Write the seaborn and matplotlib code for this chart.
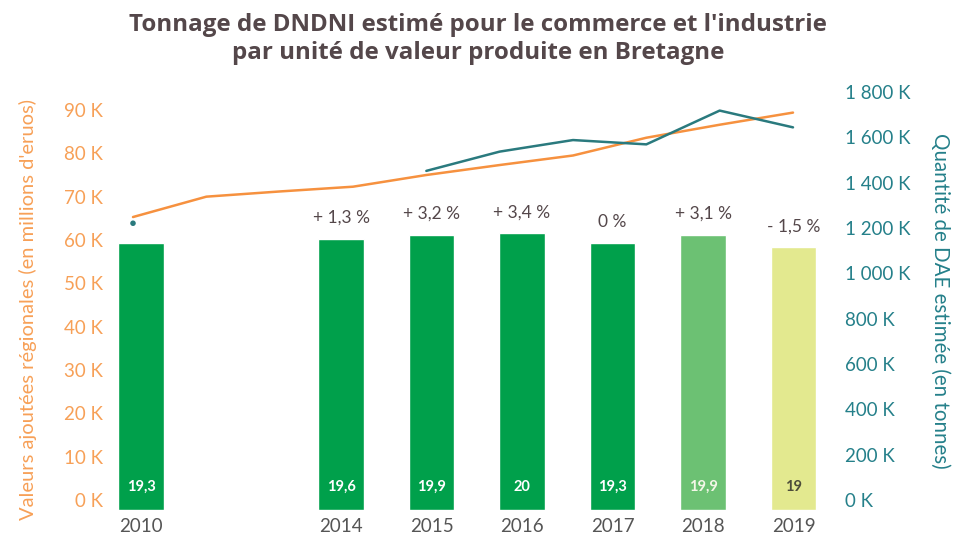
import matplotlib
matplotlib.use("Agg")
import matplotlib.pyplot as plt
from matplotlib.ticker import FixedLocator, FuncFormatter
import seaborn as sns
import pandas as pd
import numpy as np

# ---------------- data ----------------
years = [2010, 2011, 2012, 2013, 2014, 2015, 2016, 2017, 2018, 2019]
valeur_ajoutee = [65300, 70000, 71200, 72300, 75000, 77300, 79500, 83600, 86600, 89400]
dae_tonnes = [1221000, np.nan, np.nan, np.nan, 1452000, 1537000, 1588000, 1569000, 1718000, 1644000]

bar_years = ["2010", "2014", "2015", "2016", "2017", "2018", "2019"]
bar_values = [19.3, 19.6, 19.9, 20.0, 19.3, 19.9, 19.0]
bar_change = [None, 1.3, 3.2, 3.4, 0.0, 3.1, -1.5]

left_ticks = [0, 10000, 20000, 30000, 40000, 50000, 60000, 70000, 80000, 90000]
right_ticks = [0, 200000, 400000, 600000, 800000, 1000000, 1200000, 1400000, 1600000, 1800000]

title = "Tonnage de DNDNI estimé pour le commerce et l'industrie\npar unité de valeur produite en Bretagne"
left_label = "Valeurs ajoutées régionales (en millions d'eruos)"
right_label = "Quantité de DAE estimée (en tonnes)"

# ---------------- style ----------------
bar_palette = ["#00a04b", "#00a04b", "#00a04b", "#00a04b", "#00a04b", "#6cc173", "#e3e98f"]
bar_text_colors = ["white", "white", "white", "white", "white", "#f4f7e8", "#4d4d3a"]
orange = "#f6913f"
orange_text = "#f7a057"
teal = "#2a7a7e"
teal_text = "#25808a"
dark = "#54474a"

sns.set_theme(style="white")
plt.rcParams["font.family"] = ["Lato", "DejaVu Sans"]

W, H = 956, 538
fig = plt.figure(figsize=(W / 100, H / 100), dpi=100)

# layout (pixels)
ax_left_px, ax_right_px = 118, 820
line_top_px, line_bottom_px = 92, 500
bar_bottom_px = 510
first_gap = 2.21       # slot distance between the 2010 bar and the 2014 bar
bar_slot_px = 90.5
first_bar_px = 141
first_year_px, last_year_px = 133, 793

def frac_x(px):
    return px / W

def frac_y(px):
    return 1 - px / H

# bar axes (behind)
axb = fig.add_axes([frac_x(ax_left_px), frac_y(bar_bottom_px),
                    frac_x(ax_right_px) - frac_x(ax_left_px),
                    frac_y(line_top_px) - frac_y(bar_bottom_px)])
bar_pos = [0.0] + [first_gap + i for i in range(len(bar_years) - 1)]
dfb = pd.DataFrame({"pos": bar_pos, "value": bar_values, "year": bar_years})
sns.barplot(data=dfb, x="pos", y="value", hue="year",
            palette=dict(zip(bar_years, bar_palette)), dodge=False,
            native_scale=True, width=0.505, saturation=1, legend=False, ax=axb)
axb.set_ylim(0, 30.2)
axb.set_xlim((ax_left_px - first_bar_px) / bar_slot_px, (ax_right_px - first_bar_px) / bar_slot_px)
axb.xaxis.set_major_locator(FixedLocator(bar_pos))
axb.set_xticklabels(bar_years)
axb.tick_params(axis="x", length=0, pad=6, labelsize=13.5, labelcolor="#555555")
axb.set_yticks([])
axb.set_xlabel("")
axb.set_ylabel("")
for s in axb.spines.values():
    s.set_visible(False)
axb.set_facecolor("none")

def fmt_num(v):
    s = f"{v:.1f}".rstrip("0").rstrip(".")
    return s.replace(".", ",")

for p, v, c, tc in zip(bar_pos, bar_values, bar_change, bar_text_colors):
    axb.annotate(fmt_num(v), (p, 0), xytext=(0, 16.5), textcoords="offset points",
                 ha="center", va="center", fontsize=10.5, fontweight="bold", color=tc)
    if c is not None:
        if c > 0:
            txt = "+ " + fmt_num(c) + " %"
        elif c < 0:
            txt = "- " + fmt_num(-c) + " %"
        else:
            txt = "0 %"
        axb.annotate(txt, (p, v), xytext=(0, 15), textcoords="offset points",
                     ha="center", va="center", fontsize=12.5, color=dark)

# line axes (front)
axl = fig.add_axes([frac_x(ax_left_px), frac_y(line_bottom_px),
                    frac_x(ax_right_px) - frac_x(ax_left_px),
                    frac_y(line_top_px) - frac_y(line_bottom_px)])
axl.set_facecolor("none")
axr = axl.twinx()
axr.set_facecolor("none")

df = pd.DataFrame({"year": years, "va": valeur_ajoutee, "dae": dae_tonnes})
sns.lineplot(data=df, x="year", y="va", color=orange, linewidth=1.8, ax=axl)

# teal series: keep gaps, draw contiguous segments as lines and isolated points as dots
seg = df["dae"].isna().cumsum()
dfd = df.assign(seg=seg).dropna(subset=["dae"])
sizes = dfd.groupby("seg")["dae"].transform("size")
sns.lineplot(data=dfd[sizes > 1], x="year", y="dae", units="seg", estimator=None,
             color=teal, linewidth=1.8, ax=axr)
sns.scatterplot(data=dfd[sizes == 1], x="year", y="dae", color=teal, s=16,
                edgecolor="none", ax=axr)

yr_px = (last_year_px - first_year_px) / (years[-1] - years[0])
xlo = years[0] - (first_year_px - ax_left_px) / yr_px
xhi = years[-1] + (ax_right_px - last_year_px) / yr_px
axl.set_xlim(xlo, xhi)
axr.set_xlim(xlo, xhi)

left_px_per_10k = (line_bottom_px - 110) / 9
axl.set_ylim(0, (line_bottom_px - line_top_px) / left_px_per_10k * 10000)
axr.set_ylim(0, 1800000)

axl.yaxis.set_major_locator(FixedLocator(left_ticks))
axl.yaxis.set_major_formatter(FuncFormatter(lambda v, p: f"{int(round(v / 1000))} K"))
axr.yaxis.set_major_locator(FixedLocator(right_ticks))

def fmt_k(v, p):
    k = int(round(v / 1000))
    return f"{k:,}".replace(",", " ") + " K"

axr.yaxis.set_major_formatter(FuncFormatter(fmt_k))

axl.tick_params(axis="y", length=0, pad=11, labelsize=13.5, labelcolor=orange_text)
axr.tick_params(axis="y", length=0, pad=18, labelsize=13.5, labelcolor=teal_text)
axl.set_xticks([])
axr.set_xticks([])
axl.set_xlabel("")
axr.set_xlabel("")

axl.set_ylabel(left_label, fontsize=14.5, color=orange_text)
axl.yaxis.label.set_va("center")
axl.yaxis.set_label_coords((28 - ax_left_px) / (ax_right_px - ax_left_px),
                           (line_bottom_px - 309) / (line_bottom_px - line_top_px))
axr.set_ylabel(right_label, fontsize=14.8, color=teal_text, rotation=270)
axr.yaxis.label.set_va("center")
axr.yaxis.set_label_coords((940 - ax_left_px) / (ax_right_px - ax_left_px),
                           (line_bottom_px - 301) / (line_bottom_px - line_top_px))

for a in (axl, axr):
    for s in a.spines.values():
        s.set_visible(False)
    a.grid(False)

fig.suptitle(title, x=0.5, y=frac_y(39), va="center", fontsize=17.4, fontweight="bold",
             family=["Open Sans", "DejaVu Sans"], color=dark, linespacing=1.22)

fig.savefig("out.png", dpi=100)
